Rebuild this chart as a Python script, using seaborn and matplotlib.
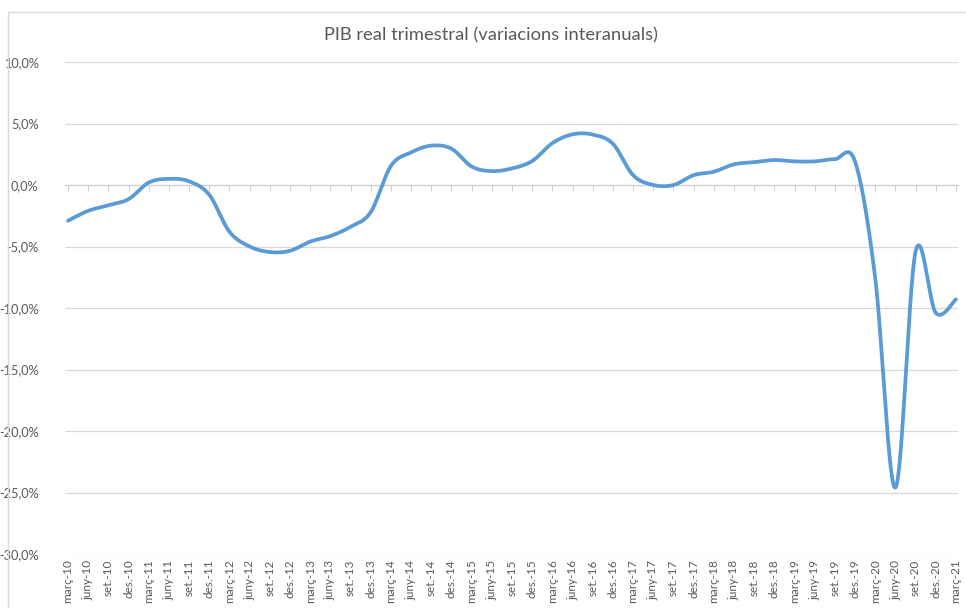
import numpy as np
import pandas as pd
import matplotlib
matplotlib.use("Agg")
import matplotlib.pyplot as plt
import seaborn as sns
from matplotlib.patches import Rectangle
from matplotlib.ticker import FuncFormatter

# trimestres (etiquetes de l'eix de categories)
quarters = [
    "març-10", "juny-10", "set.-10", "des.-10",
    "març-11", "juny-11", "set.-11", "des.-11",
    "març-12", "juny-12", "set.-12", "des.-12",
    "març-13", "juny-13", "set.-13", "des.-13",
    "març-14", "juny-14", "set.-14", "des.-14",
    "març-15", "juny-15", "set.-15", "des.-15",
    "març-16", "juny-16", "set.-16", "des.-16",
    "març-17", "juny-17", "set.-17", "des.-17",
    "març-18", "juny-18", "set.-18", "des.-18",
    "març-19", "juny-19", "set.-19", "des.-19",
    "març-20", "juny-20", "set.-20", "des.-20",
    "març-21",
]

# variacio interanual del PIB real (%), llegida del grafic
pib_var = [
    -2.9, -2.1, -1.65, -1.15,
    0.2, 0.5, 0.3, -0.8,
    -3.8, -5.0, -5.45, -5.35,
    -4.6, -4.15, -3.4, -2.2,
    1.55, 2.65, 3.2, 2.95,
    1.5, 1.13, 1.35, 1.95,
    3.4, 4.12, 4.1, 3.35,
    0.8, 0.0, 0.0, 0.8,
    1.08, 1.68, 1.86, 2.03,
    1.92, 1.92, 2.1, 1.9,
    -7.6, -24.6, -5.4, -10.4,
    -9.3,
]

y_ticks = [10, 5, 0, -5, -10, -15, -20, -25, -30]

LINE_COLOR = "#5B9BD5"
TEXT_COLOR = "#595959"
GRID_COLOR = "#D9D9D9"


def smooth_curve(xv, yv, steps=30):
    """corba suavitzada tipus Excel (Bezier Catmull-Rom) entre els punts"""
    xv = np.asarray(xv, dtype=float)
    yv = np.asarray(yv, dtype=float)
    px = np.concatenate([[xv[0]], xv, [xv[-1]]])
    py = np.concatenate([[yv[0]], yv, [yv[-1]]])
    out_x, out_y = [], []
    t = np.linspace(0, 1, steps, endpoint=False)
    for i in range(1, len(px) - 2):
        p0 = np.array([px[i], py[i]])
        p3 = np.array([px[i + 1], py[i + 1]])
        c1 = p0 + (np.array([px[i + 1], py[i + 1]]) - np.array([px[i - 1], py[i - 1]])) / 6
        c2 = p3 - (np.array([px[i + 2], py[i + 2]]) - np.array([px[i], py[i]])) / 6
        for tt in t:
            b = ((1 - tt) ** 3) * p0 + 3 * ((1 - tt) ** 2) * tt * c1 \
                + 3 * (1 - tt) * tt ** 2 * c2 + tt ** 3 * p3
            out_x.append(b[0])
            out_y.append(b[1])
    out_x.append(xv[-1])
    out_y.append(yv[-1])
    return np.array(out_x), np.array(out_y)


def main():
    sns.set_theme(style="white")
    plt.rcParams["font.family"] = ["Lato", "DejaVu Sans"]

    df = pd.DataFrame({"pos": np.arange(len(quarters)), "pib": pib_var})
    sx, sy = smooth_curve(df["pos"], df["pib"])
    curve = pd.DataFrame({"pos": sx, "pib": sy})

    fig = plt.figure(figsize=(9.66, 6.08), dpi=100)
    ax = fig.add_axes([65 / 966, 1 - 554 / 608, (958 - 65) / 966, (554 - 62) / 608])

    # marc del grafic
    fig.patches.append(Rectangle((8 / 966, -0.1), 1.2, 1 - 12 / 608 + 0.1,
                                 transform=fig.transFigure, fill=False,
                                 edgecolor="#D9D9D9", linewidth=1.0))

    for v in y_ticks:
        if v != 0:
            ax.axhline(v, color=GRID_COLOR, linewidth=0.9, zorder=0)

    sns.lineplot(data=curve, x="pos", y="pib", ax=ax, color=LINE_COLOR,
                 linewidth=2.7, solid_capstyle="round", zorder=3)

    ax.set_xlim(-0.15, len(quarters) - 1 + 0.1)
    ax.set_ylim(-30, 10)
    ax.set_yticks(y_ticks)
    ax.yaxis.set_major_formatter(FuncFormatter(lambda v, p: f"{v:.1f}%".replace(".", ",")))

    # eix de categories creuant a 0
    for s in ["left", "right", "bottom"]:
        ax.spines[s].set_visible(False)
    ax.spines["top"].set_position(("data", 0))
    ax.spines["top"].set_color("#D0D0D0")
    ax.spines["top"].set_linewidth(1.0)
    ax.tick_params(axis="x", bottom=False, top=True, labeltop=False, labelbottom=True,
                   direction="in", length=4, width=0.8, color="#D0D0D0",
                   labelsize=8.5, labelcolor=TEXT_COLOR, pad=4, labelrotation=90)
    ax.tick_params(axis="y", left=False, labelsize=9.2, labelcolor=TEXT_COLOR, pad=13)
    ax.set_xticks(df["pos"])
    ax.set_xticklabels(quarters, rotation=90)

    ax.set_xlabel("")
    ax.set_ylabel("")
    fig.text(0.508, 1 - 35 / 608, "PIB real trimestral (variacions interanuals)",
             ha="center", va="center", fontsize=13.2, color=TEXT_COLOR)

    fig.savefig("out.png", dpi=100)
    plt.close(fig)


if __name__ == "__main__":
    main()
